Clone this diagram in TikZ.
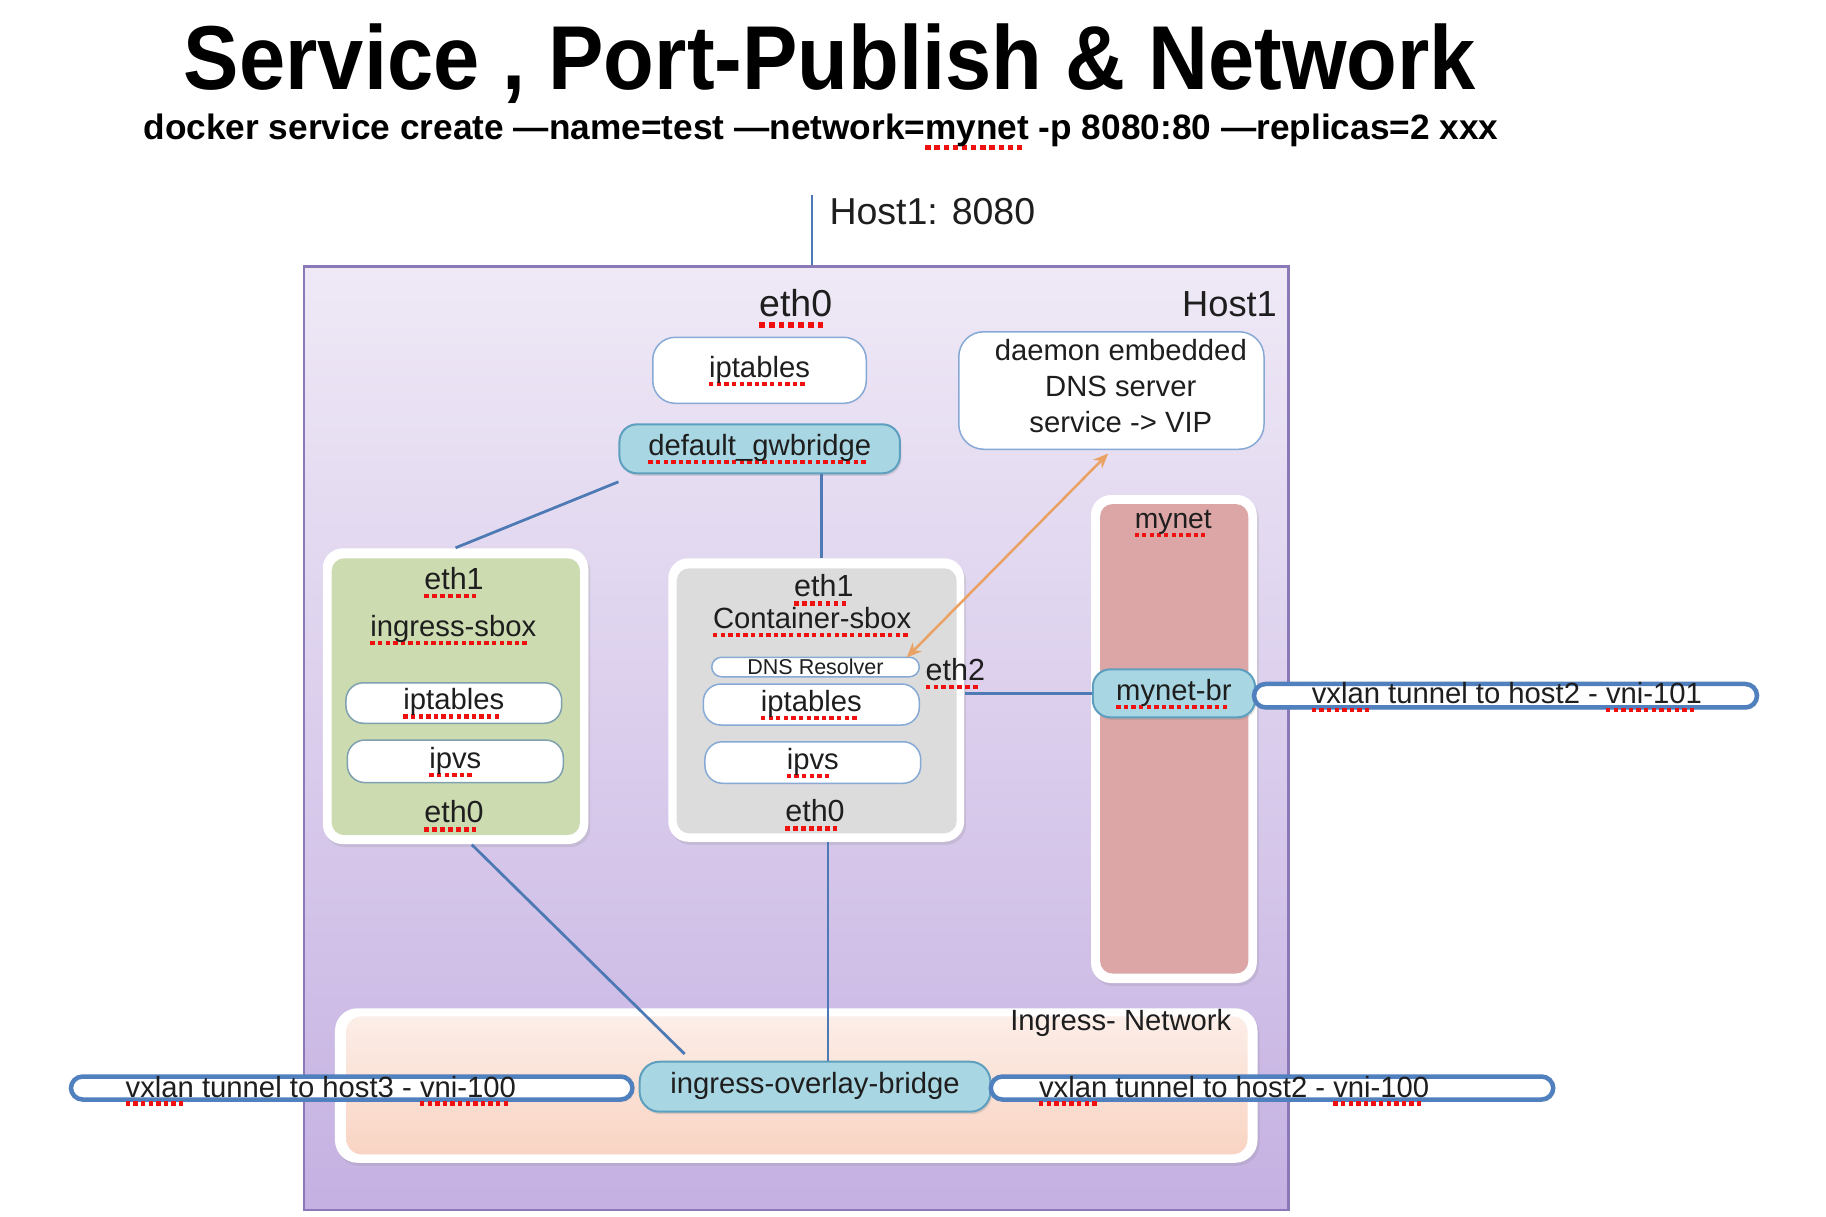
\documentclass[tikz,border=0pt]{standalone}
\usepackage{fontspec}
\setmainfont{Liberation Sans}
\newfontfamily\titlefont[FakeStretch=0.915]{Liberation Sans}
\usetikzlibrary{shadows,arrows.meta}

\definecolor{hosttop}{HTML}{EFE9F6}
\definecolor{hostbot}{HTML}{C5B1E2}
\definecolor{hostline}{HTML}{8A78B8}
\definecolor{greenf}{HTML}{CCDBB0}
\definecolor{grayf}{HTML}{DCDCDC}
\definecolor{redf}{HTML}{DBA6A5}
\definecolor{brfill}{HTML}{A8D6E2}
\definecolor{brline}{HTML}{5E9FBF}
\definecolor{tunline}{HTML}{5080BE}
\definecolor{boxline}{HTML}{86A9D6}
\definecolor{boxlinetwo}{HTML}{7FA0AE}
\definecolor{peachtop}{HTML}{FCEEE8}
\definecolor{peachbot}{HTML}{F9D4C3}
\definecolor{connc}{HTML}{4D79B4}
\definecolor{orangec}{HTML}{E9A263}
\definecolor{sqred}{HTML}{F01010}
\definecolor{txtc}{HTML}{1E1E1E}

\newcommand\sq[1]{\setbox0\hbox{#1}\rlap{\color{sqred}\leaders\hbox{\rule[-0.3em]{0.15em}{0.15em}\kern0.11em}\hskip\wd0}\box0\relax}

\tikzset{
  lbl/.style={inner sep=0pt, text=txtc},
  fbig/.style={font=\fontsize{15}{18}\selectfont},
  fmid/.style={font=\fontsize{11.7}{14.3}\selectfont},
  feth/.style={font=\fontsize{12.2}{14.5}\selectfont},
  boxtext/.style={text height=8.4pt, text depth=2.9pt, inner sep=0pt, text=txtc},
  wbox/.style={boxtext, draw=boxline, line width=0.6pt, fill=white, rounded corners=7pt, fmid},
  bridge/.style={boxtext, draw=brline, line width=0.8pt, fill=brfill, rounded corners=7pt, fmid,
    drop shadow={opacity=0.25, shadow xshift=0.6pt, shadow yshift=-1pt}},
  outerframe/.style={fill=white, rounded corners=8pt, inner sep=0pt,
    drop shadow={opacity=0.18, shadow xshift=0.8pt, shadow yshift=-1.2pt}},
  panel/.style={rounded corners=5pt, inner sep=0pt},
  tunnel/.style={draw=tunline, line width=1.8pt, fill=white, rounded corners=4.7pt, inner sep=0pt,
    drop shadow={opacity=0.2, shadow xshift=0.6pt, shadow yshift=-1pt}},
  tuntext/.style={lbl, fmid, anchor=base west},
  conn/.style={draw=connc, line width=1.1pt},
}

\begin{document}
\begin{tikzpicture}[x=0.4pt, y=-0.4pt]
\fill[white] (0,0) rectangle (1826,1216);
\useasboundingbox (0,0) rectangle (1826,1216);

% titles
\node[lbl, text=black, anchor=base, font=\titlefont\bfseries\fontsize{36.3}{40}\selectfont] (title) at (830,89) {Service , Port-Publish \& Network};
\node[lbl, text=black, anchor=base, font=\bfseries\fontsize{14.1}{17}\selectfont] (cmd) at (821,139.3) {docker service create —name=test —network=\sq{mynet} -p 8080:80 —replicas=2 xxx};

% host box
\node[draw=hostline, line width=1pt, top color=hosttop, bottom color=hostbot, minimum width=393.8pt, minimum height=377.4pt, inner sep=0pt] (host) at (796.25,738.25) {};
\node[lbl, fbig, anchor=base west] (hp) at (829,224) {Host1: 8080};
\coordinate (ptop) at (811.7,195);
\draw[conn, line width=0.8pt] (ptop) -- (ptop |- host.north);

\node[lbl, fbig, anchor=base] (eth0top) at (795.7,316.7) {\sq{eth0}};
\node[lbl, font=\fontsize{14.5}{17}\selectfont, anchor=base east] (hostlbl) at (1277.4,316.7) {Host1};

\node[wbox, minimum width=85.4pt, minimum height=26.4pt, rounded corners=9pt] (ipt0) at (759.5,370.3) {\sq{iptables}};
\node[bridge, minimum width=112.2pt, minimum height=19.6pt] (gw) at (759.7,448.8) {\sq{default\_gwbridge}};

\node[wbox, minimum width=122.1pt, minimum height=47pt, rounded corners=10pt] (dns) at (1111.4,390.5) {};
\node[lbl, fmid, align=center] (dnstxt) at (1120.8,386.2) {daemon embedded\\DNS server\\service -> VIP};

% ingress sandbox
\node[outerframe, minimum width=106.2pt, minimum height=118.3pt] (ingout) at (455.5,696.2) {};
\node[panel, fill=greenf, minimum width=99.3pt, minimum height=110.7pt] (ingin) at (455.8,696.7) {};
\node[lbl, feth, anchor=base] (ing1) at (454,589.3) {\sq{eth1}};
\node[lbl, fmid, anchor=base] (ingname) at (453.3,636.7) {\sq{ingress-sbox}};
\node[wbox, draw=boxlinetwo, minimum width=86.3pt, minimum height=16.2pt] (ingipt) at (453.8,703) {\sq{iptables}};
\node[wbox, draw=boxlinetwo, minimum width=86.4pt, minimum height=17pt] (ingipvs) at (455.3,761.3) {\sq{ipvs}};
\node[lbl, feth, anchor=base] (ing0) at (454,822.7) {\sq{eth0}};

% container sandbox
\node[outerframe, minimum width=118.3pt, minimum height=113.4pt] (csout) at (816.2,700) {};
\node[panel, fill=grayf, minimum width=112pt, minimum height=106pt] (csin) at (816.7,700.8) {};
\node[lbl, feth, anchor=base] (cs1) at (823.8,596.7) {\sq{eth1}};
\node[lbl, fmid, anchor=base] (csname) at (812.2,628.3) {\sq{Container-sbox}};
\node[wbox, font=\fontsize{8.6}{10}\selectfont, text height=6.2pt, text depth=0pt, minimum width=83pt, minimum height=7.8pt, rounded corners=3.9pt] (dnsr) at (815.5,667) {DNS Resolver};
\node[wbox, minimum width=86.4pt, minimum height=16.4pt] (csipt) at (811.3,704.5) {\sq{iptables}};
\node[wbox, minimum width=86.3pt, minimum height=16.6pt] (csipvs) at (812.8,762.5) {\sq{ipvs}};
\node[lbl, feth, anchor=base] (cs0) at (815,821.7) {\sq{eth0}};
\node[lbl, feth, anchor=base] (eth2) at (955.3,680) {\sq{eth2}};

% mynet
\node[outerframe, minimum width=66.3pt, minimum height=195.2pt] (mnout) at (1173.9,739) {};
\node[panel, fill=redf, minimum width=59.3pt, minimum height=187.8pt] (mnin) at (1174.2,738.8) {};
\node[lbl, font=\fontsize{11.3}{13}\selectfont, anchor=base] (mnlbl) at (1173.3,528.3) {\sq{mynet}};

% ingress network
\node[outerframe, minimum width=369pt, minimum height=61.8pt, rounded corners=9pt] (inout) at (796.25,1085.5) {};
\node[panel, top color=peachtop, bottom color=peachbot, minimum width=360.4pt, minimum height=55.2pt, rounded corners=6pt] (inin) at (797,1085.3) {};
\node[lbl, fmid, anchor=base] (inlbl) at (1120.8,1030) {Ingress- Network};

% bridges
\node[bridge, minimum width=64.9pt, minimum height=19.2pt] (mbr) at (1173.9,693.3) {\sq{mynet-br}};
\node[bridge, minimum width=140.3pt, minimum height=20pt, rounded corners=8pt] (iob) at (815,1086.7) {ingress-overlay-bridge};

% connectors
\draw[conn] ([yshift=-3pt]gw.south west) -- (ingout.north);
\draw[conn] ([xshift=24.8pt]gw.south) -- ([xshift=24.8pt]gw.south |- csout.north);
\draw[conn] ([xshift=6.5pt]ingout.south) -- ([xshift=18.4pt,yshift=2.7pt]iob.north west);
\draw[conn] ([xshift=4.7pt]csout.south) -- ([xshift=4.7pt]csout.south |- iob.north);
\draw[conn] (mbr.west -| csout.east) -- (mbr.west);

% tunnels
\node[tunnel, minimum width=201.2pt, minimum height=9.4pt] (t101) at (1505.5,695.7) {};
\node[tuntext] (t101l) at ([xshift=23.8pt, yshift=-3pt]t101.west) {\sq{vxlan} tunnel to host2 - \sq{vni-101}};
\node[tunnel, minimum width=224.6pt, minimum height=9.2pt] (t3) at (351.7,1088) {};
\node[tuntext] (t3l) at ([xshift=22.6pt, yshift=-3.6pt]t3.west) {\sq{vxlan} tunnel to host3 - \sq{vni-100}};
\node[tunnel, minimum width=225pt, minimum height=9.2pt] (t2) at (1272,1088) {};
\node[tuntext] (t2l) at ([xshift=20pt, yshift=-3.6pt]t2.west) {\sq{vxlan} tunnel to host2 - \sq{vni-100}};

% DNS arrow
\draw[orangec, line width=1pt, {Stealth[length=6pt,width=5pt]}-{Stealth[length=6pt,width=5pt]}] ([xshift=-1.3pt,yshift=-1.4pt]dns.south) -- ([xshift=-5.3pt,yshift=-0.4pt]dnsr.north east);
\end{tikzpicture}
\end{document}
